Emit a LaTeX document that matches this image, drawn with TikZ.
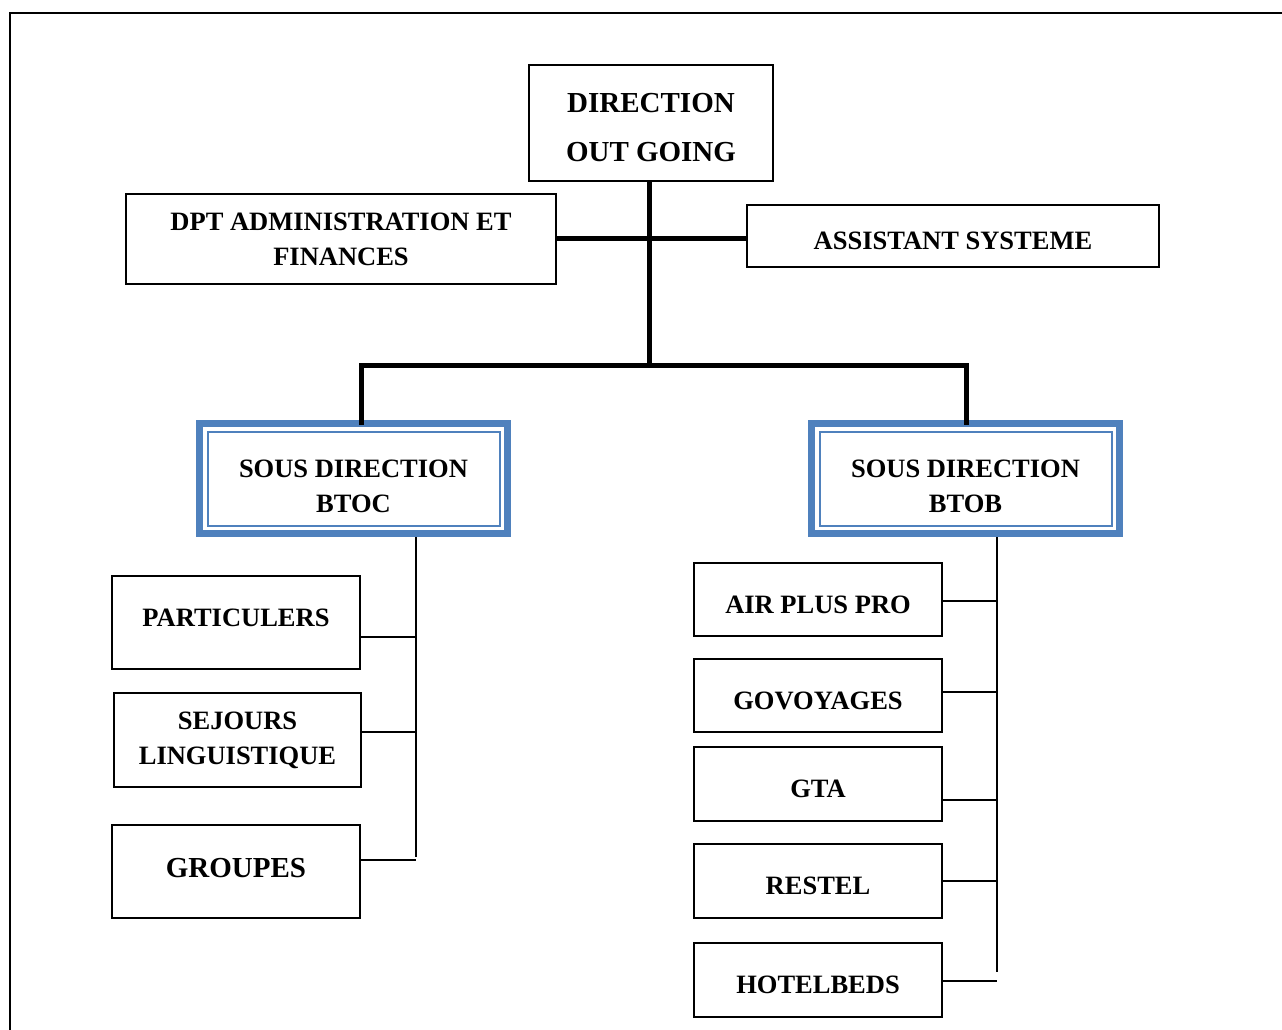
\documentclass[tikz,border=0pt]{standalone}
\usepackage{fontspec}
\setmainfont{Liberation Serif}
\usetikzlibrary{calc}

\definecolor{sdblue}{RGB}{79,129,189}

\tikzset{
  box/.style={draw, line width=1.6pt, align=center, inner sep=0pt,
    font=\bfseries\fontsize{26.5}{35}\selectfont},
  unitbox/.style={box, minimum width=248pt, minimum height=#1},
  sdbox/.style={draw=sdblue, line width=7pt, align=center, inner sep=0pt,
    minimum width=308pt, minimum height=110pt,
    font=\bfseries\fontsize{26.5}{35}\selectfont},
  trunk/.style={line width=5pt},
  branch/.style={line width=1.6pt},
  lowered/.style={text height=#1, text depth=0pt},
  lifted/.style={text height=17.5pt, text depth=#1},
}

\begin{document}
\begin{tikzpicture}[x=1pt,y=-1pt]
\useasboundingbox (0,0) rectangle (1282,1030);

% Frame
\draw[line width=2.5pt] (10,1030) -- (10,13) -- (1282,13);

% Top level
\node[box, minimum width=244pt, minimum height=116pt,
  font=\bfseries\fontsize{29}{49}\selectfont] (dir) at (651,123)
  {\rule{0pt}{29pt}DIRECTION\\OUT GOING};
\node[box, minimum width=430pt, minimum height=90pt] (daf) at (341,239)
  {DPT ADMINISTRATION ET\\FINANCES};
\node[box, lowered=27.5pt, minimum width=412pt, minimum height=62pt] (asys) at (953,236)
  {ASSISTANT SYSTEME};

% Sous directions
\node[sdbox] (btoc) at (353.5,478.5) {\rule{0pt}{33.5pt}SOUS DIRECTION\\BTOC};
\node[sdbox] (btob) at (965.5,478.5) {\rule{0pt}{33.5pt}SOUS DIRECTION\\BTOB};
\foreach \s in {btoc,btob}
  \draw[sdblue, line width=2pt] ([shift={(11.5pt,11.5pt)}]\s.south west)
    rectangle ([shift={(-11.5pt,-11.5pt)}]\s.north east);

% BTOC units
\node[unitbox=93pt, lifted=9pt] (part) at (236,622.5) {PARTICULERS};
\node[unitbox=94pt, minimum width=247pt] (sej) at (237.5,740) {SEJOURS\\LINGUISTIQUE};
\node[unitbox=93pt, text height=19.2pt, text depth=7pt,
  font=\bfseries\fontsize{29}{35}\selectfont] (grp) at (236,871.5) {GROUPES};

% BTOB units
\node[unitbox=73pt, lowered=27.5pt] (air) at (818,599.5) {AIR PLUS PRO};
\node[unitbox=73pt, lowered=27.5pt] (gov) at (818,695.5) {GOVOYAGES};
\node[unitbox=74pt, lowered=27.5pt] (gta) at (818,784) {GTA};
\node[unitbox=74pt, lowered=27.5pt] (rest) at (818,881) {RESTEL};
\node[unitbox=74pt, lowered=27.5pt] (hotel) at (818,980) {HOTELBEDS};

% Trunk
\coordinate (hub) at (649,238);
\coordinate (split) at (649,365);
\coordinate (ldrop) at (361,365);
\coordinate (rdrop) at (966,365);
\draw[trunk] (dir.south -| hub) -- (split);
\draw[trunk] (daf.east |- hub) -- (asys.west |- hub);
\draw[trunk] ([yshift=-5pt]btoc.north -| ldrop) -- (ldrop) -- (rdrop)
  -- ([yshift=-5pt]btob.north -| rdrop);

% Spines
\coordinate (lspine) at (416,857);
\coordinate (rspine) at (997,972);
\draw[branch] (btoc.south -| lspine) -- (lspine);
\draw[branch] (btob.south -| rspine) -- (rspine);
\foreach \n/\y in {part/637,sej/732,grp/860}
  \draw[branch] (\n.east |- 0,\y) -- (lspine |- 0,\y);
\foreach \n/\y in {air/601,gov/692,gta/800,rest/881,hotel/981}
  \draw[branch] (\n.east |- 0,\y) -- (rspine |- 0,\y);

\end{tikzpicture}
\end{document}
